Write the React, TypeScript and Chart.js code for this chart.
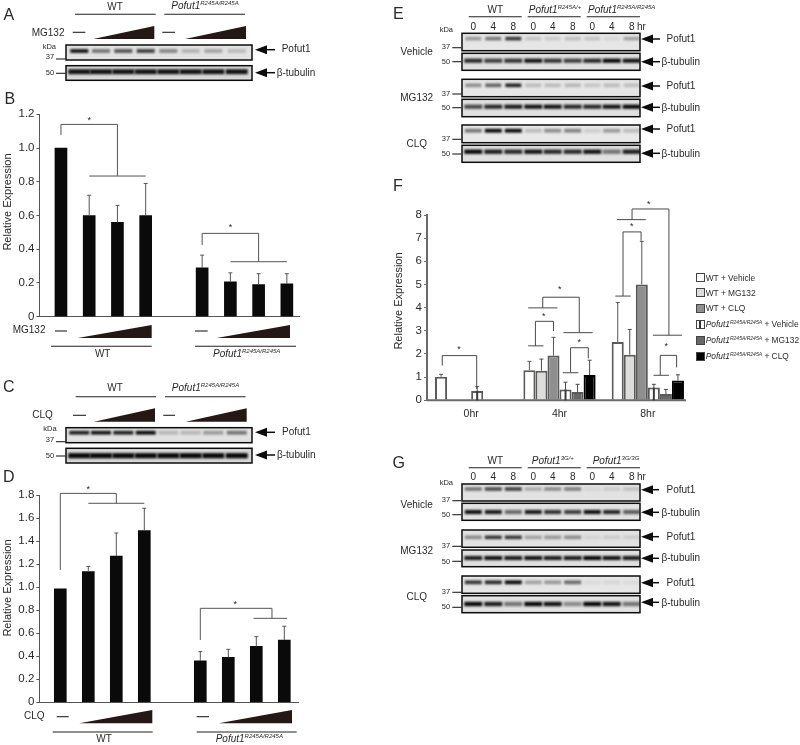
import React, { useEffect, useRef } from "react";
import { Chart, registerables } from "chart.js";

Chart.register(...registerables);

// ---------- data: panels B, D ----------
const slots = [0, 1, 2, 3, 5, 6, 7, 8];
const mg132Means = [1.0, 0.6, 0.56, 0.6, 0.29, 0.207, 0.19, 0.195];
const mg132Upper = [null, 0.72, 0.66, 0.79, 0.365, 0.26, 0.255, 0.255];
const clqMeans = [0.985, 1.135, 1.27, 1.49, 0.36, 0.39, 0.485, 0.54];
const clqUpper = [null, 1.18, 1.47, 1.685, 0.44, 0.46, 0.57, 0.66];
const mg132Ticks = [0, 0.2, 0.4, 0.6, 0.8, 1.0, 1.2];
const clqTicks = [0, 0.2, 0.4, 0.6, 0.8, 1.0, 1.2, 1.4, 1.6, 1.8];

// significance brackets: polylines of [slot, value], stars [slot, value]
const mg132Brackets = [
  [[0, 1.077], [0, 1.14], [2, 1.14], [2, 0.834]],
  [[1, 0.834], [3, 0.834]],
  [[5, 0.425], [5, 0.494], [7, 0.494], [7, 0.326]],
  [[6, 0.326], [8, 0.326]],
];
const mg132Stars = [[1, 1.17], [6, 0.534]];
const clqBrackets = [
  [[0, 1.149], [0, 1.814], [2, 1.814], [2, 1.728]],
  [[1, 1.728], [3, 1.728]],
  [[5, 0.541], [5, 0.816], [7.56, 0.816], [7.56, 0.729]],
  [[6.9, 0.729], [8.1, 0.729]],
];
const clqStars = [[1, 1.858], [6.25, 0.86]];

// ---------- data: panel F ----------
const hours = ["0hr", "4hr", "8hr"];
const fWtVehicle = [1.02, 1.3, 2.52];
const fWtMg132 = [null, 1.28, 1.97];
const fWtClq = [null, 1.93, 5.0];
const fMutVehicle = [0.4, 0.47, 0.55];
const fMutMg132 = [null, 0.36, 0.27];
const fMutClq = [null, 1.09, 0.85];
const fWtVehicleUp = [1.12, 1.68, 4.22];
const fWtMg132Up = [null, 1.78, 3.06];
const fWtClqUp = [null, 2.72, 6.86];
const fMutVehicleUp = [0.59, 0.78, 0.69];
const fMutMg132Up = [null, 0.69, 0.47];
const fMutClqUp = [null, 1.73, 1.1];
const fSeriesNames = ["WT + Vehicle", "WT + MG132", "WT + CLQ", "Mut + Vehicle", "Mut + MG132", "Mut + CLQ"];
const fFills = ["#ffffff", "#dddedb", "#8f8f8f", "#ffffff", "#676767", "#000000"];
// brackets: polylines of [group, lane, value]
const fBrackets = [
  [[0, 0.1, 1.5], [0, 0.1, 1.93], [0, 2.96, 1.93], [0, 2.96, 0.49]],
  [[1, -0.1, 2.35], [1, 1.17, 2.35]],
  [[1, 0.5, 2.35], [1, 0.5, 3.41], [1, 2, 3.41], [1, 2, 2.99]],
  [[1, 2.78, 1.19], [1, 4.06, 1.19]],
  [[1, 3.42, 1.19], [1, 3.42, 2.27], [1, 4.89, 2.27], [1, 4.89, 1.81]],
  [[1, -0.1, 3.99], [1, 2.33, 3.99]],
  [[1, 1.11, 3.99], [1, 1.11, 4.45], [1, 4.14, 4.45], [1, 4.14, 2.92]],
  [[1, 2.83, 2.92], [1, 5.25, 2.92]],
  [[2, -0.2, 4.5], [2, 1.08, 4.5]],
  [[2, 0.44, 4.5], [2, 0.44, 7.27], [2, 1.94, 7.27], [2, 1.94, 6.89]],
  [[2, -0.06, 7.8], [2, 2.33, 7.8]],
  [[2, 1.19, 7.8], [2, 1.19, 8.26], [2, 4.25, 8.26], [2, 4.25, 2.81]],
  [[2, 2.92, 2.81], [2, 5.33, 2.81]],
  [[2, 2.97, 1.08], [2, 4.25, 1.08]],
  [[2, 3.53, 1.08], [2, 3.53, 1.94], [2, 4.89, 1.94], [2, 4.89, 1.42]],
];
const fStars = [[0, 1.49, 2.24], [1, 1.19, 3.68], [1, 4.14, 2.53], [1, 2.53, 4.82], [2, 1.17, 7.53], [2, 2.58, 8.5], [2, 4.03, 2.37]];

// ---------- data: blot band intensities ----------
const aPofut = [0.95, 0.5, 0.65, 0.75, 0.42, 0.22, 0.28, 0.18];
const aTub = [0.95, 0.95, 0.95, 0.95, 0.95, 0.95, 0.95, 0.95];
const cPofut = [0.9, 0.95, 0.9, 1, 0.2, 0.2, 0.33, 0.5];
const cTub = [1, 1, 1, 1, 1, 1, 1, 1];
const eVehPofut = [0.35, 0.5, 0.8, 0.15, 0.12, 0.17, 0.15, 0.07, 0.3];
const eVehTub = [0.85, 0.75, 0.8, 0.95, 0.8, 0.75, 0.85, 1, 0.95];
const eMgPofut = [0.4, 0.6, 0.9, 0.2, 0.2, 0.22, 0.15, 0.2, 0.18];
const eMgTub = [0.7, 0.85, 0.9, 0.95, 0.95, 0.85, 0.85, 0.95, 1];
const eClqPofut = [0.5, 1, 1, 0.2, 0.4, 0.45, 0.12, 0.35, 0.2];
const eClqTub = [1, 0.9, 0.85, 0.95, 0.85, 0.85, 0.95, 0.5, 0.9];
const gVehPofut = [0.5, 0.7, 0.75, 0.25, 0.4, 0.45, 0.05, 0.1, 0.15];
const gVehTub = [0.95, 0.9, 0.55, 0.9, 0.8, 0.75, 0.95, 0.85, 0.6];
const gMgPofut = [0.4, 0.8, 0.8, 0.3, 0.35, 0.4, 0.07, 0.1, 0.1];
const gMgTub = [0.9, 0.95, 0.9, 0.95, 0.9, 0.9, 1, 0.95, 0.9];
const gClqPofut = [0.8, 0.85, 1, 0.3, 0.35, 0.55, 0.05, 0.07, 0.05];
const gClqTub = [1, 0.9, 0.5, 1, 0.95, 0.4, 1, 0.95, 0.5];

const FONT = '"Liberation Sans", Arial, sans-serif';
const INK = "#2a2a2a";
const GREY = "#555555";

// ---------- page furniture geometry ----------
const wideLanes = [79.3, 101, 123.3, 145.7, 168.3, 190.7, 213.3, 236.7];
const nineLanes = [473.3, 493.3, 513.3, 533.3, 552.7, 572.7, 592.3, 611.7, 631.7];

const strips = [
  { x0: 66, x1: 252, t: 45, b: 60, by: 51, bands: aPofut, lanes: wideLanes, w: 18, h: 3.8, ay: 49.7, ax: 254, ae: 275, bg: "#e2e2e2" },
  { x0: 66, x1: 252, t: 65.7, b: 80.3, by: 71.7, bands: aTub, lanes: wideLanes, w: 22, h: 5, ay: 72.7, ax: 254, ae: 275, bg: "#d8d8d8" },
  { x0: 66, x1: 252, t: 427.7, b: 442.7, by: 432.7, bands: cPofut, lanes: wideLanes, w: 20, h: 3.8, ay: 432.3, ax: 254, ae: 275, bg: "#e2e2e2" },
  { x0: 66, x1: 252, t: 448.3, b: 463, by: 455.7, bands: cTub, lanes: wideLanes, w: 22, h: 5.2, ay: 455, ax: 254, ae: 275, bg: "#d8d8d8" },
  { x0: 462, x1: 640, t: 33.3, b: 50.7, by: 38.6, bands: eVehPofut, lanes: nineLanes, w: 16, h: 3.6, ay: 39, ax: 640, ae: 660, bg: "#e6e6e6" },
  { x0: 462, x1: 640, t: 53.3, b: 70.3, by: 60.7, bands: eVehTub, lanes: nineLanes, w: 18, h: 4.2, ay: 61.7, ax: 640, ae: 660, bg: "#e0e0e0" },
  { x0: 462, x1: 640, t: 79.3, b: 96.7, by: 85.3, bands: eMgPofut, lanes: nineLanes, w: 16, h: 3.6, ay: 86, ax: 640, ae: 660, bg: "#e6e6e6" },
  { x0: 462, x1: 640, t: 99.3, b: 116.7, by: 106.7, bands: eMgTub, lanes: nineLanes, w: 18, h: 4.2, ay: 107.3, ax: 640, ae: 660, bg: "#e0e0e0" },
  { x0: 462, x1: 640, t: 125, b: 142.7, by: 130.7, bands: eClqPofut, lanes: nineLanes, w: 17, h: 3.8, ay: 129, ax: 640, ae: 660, bg: "#e8e8e8" },
  { x0: 462, x1: 640, t: 145.3, b: 162.3, by: 151.7, bands: eClqTub, lanes: nineLanes, w: 18, h: 4.4, ay: 153.3, ax: 640, ae: 660, bg: "#e0e0e0" },
  { x0: 462, x1: 640, t: 484, b: 501, by: 489, bands: gVehPofut, lanes: nineLanes, w: 17, h: 3.6, ay: 489.7, ax: 640, ae: 659, bg: "#e2e2e2" },
  { x0: 462, x1: 640, t: 503.3, b: 520.3, by: 512, bands: gVehTub, lanes: nineLanes, w: 17, h: 4.2, ay: 512.3, ax: 640, ae: 659, bg: "#e2e2e2" },
  { x0: 462, x1: 640, t: 530, b: 547.3, by: 537.3, bands: gMgPofut, lanes: nineLanes, w: 17, h: 3.6, ay: 536.7, ax: 640, ae: 659, bg: "#e2e2e2" },
  { x0: 462, x1: 640, t: 550, b: 566.7, by: 558, bands: gMgTub, lanes: nineLanes, w: 18, h: 4.2, ay: 558.3, ax: 640, ae: 659, bg: "#e0e0e0" },
  { x0: 462, x1: 640, t: 576, b: 593.3, by: 582.3, bands: gClqPofut, lanes: nineLanes, w: 17, h: 3.8, ay: 582.7, ax: 640, ae: 659, bg: "#e6e6e6" },
  { x0: 462, x1: 640, t: 595.7, b: 612.7, by: 604, bands: gClqTub, lanes: nineLanes, w: 18, h: 4.4, ay: 602.3, ax: 640, ae: 659, bg: "#e2e2e2" },
];

const rules = [
  [75, 14.3, 155.7, 14.3], [164.3, 14.3, 245, 14.3],
  [75.7, 396.7, 156, 396.7], [165, 396.7, 245.5, 396.7],
  [51, 346.3, 151.7, 346.3], [195, 346.3, 296, 346.3],
  [52.7, 732, 152.7, 732], [196.7, 732, 296.7, 732],
  [468.7, 16.7, 521.7, 16.7], [527.7, 16.7, 580.7, 16.7], [586.7, 16.7, 640, 16.7],
  [468.7, 467.7, 521.7, 467.7], [527.7, 467.7, 580.7, 467.7], [586.7, 467.7, 640, 467.7],
  // dashes
  [72.7, 32.3, 85.3, 32.3], [162.3, 32.3, 175, 32.3],
  [73, 415.3, 86, 415.3], [163.3, 415.3, 175, 415.3],
  [55, 331, 67, 331], [195, 331, 207.7, 331],
  [56.7, 716.7, 68.7, 716.7], [196.7, 716.7, 209, 716.7],
  // marker ticks
  [56, 59, 65.7, 59], [56, 73.3, 65.7, 73.3], [56, 441.7, 65.7, 441.7], [56, 456, 65.7, 456],
  [452.3, 47.7, 461.5, 47.7], [452.3, 61.7, 461.5, 61.7], [452.3, 94, 461.5, 94], [452.3, 107.7, 461.5, 107.7], [452.3, 139.3, 461.5, 139.3], [452.3, 154, 461.5, 154],
  [452.3, 500.7, 461.5, 500.7], [452.3, 514.7, 461.5, 514.7], [452.3, 546.3, 461.5, 546.3], [452.3, 561.3, 461.5, 561.3], [452.3, 592.3, 461.5, 592.3], [452.3, 607.3, 461.5, 607.3],
];
const wedges = [
  [93.3, 154.3, 39, 26], [185, 246, 39, 26],
  [94, 155, 421.7, 408.3], [185.7, 246.7, 421.7, 408.3],
  [77.7, 151.7, 338, 325], [216.7, 290, 338, 325],
  [79.3, 152.3, 723.3, 710], [218.7, 292, 723.3, 710],
];

const pagePlugin = {
  id: "page",
  afterDraw(chart: any) {
    const ctx = chart.ctx;
    ctx.save();
    ctx.fillStyle = "#ffffff";
    ctx.fillRect(0, 0, 800, 745);
    for (const s of strips) {
      ctx.save();
      ctx.beginPath();
      ctx.rect(s.x0, s.t, s.x1 - s.x0, s.b - s.t);
      ctx.clip();
      ctx.fillStyle = s.bg;
      ctx.fillRect(s.x0, s.t, s.x1 - s.x0, s.b - s.t);
      ctx.filter = "blur(0.8px)";
      s.bands.forEach((v: number, i: number) => {
        ctx.fillStyle = `rgba(8,8,8,${v})`;
        ctx.fillRect(s.lanes[i] - s.w / 2, s.by - s.h / 2, s.w, s.h);
      });
      ctx.restore();
      ctx.strokeStyle = "#0c0c0c";
      ctx.lineWidth = 1.5;
      ctx.strokeRect(s.x0, s.t, s.x1 - s.x0, s.b - s.t);
      // arrow
      ctx.fillStyle = "#0c0c0c";
      ctx.beginPath();
      ctx.moveTo(s.ax + 1, s.ay);
      ctx.lineTo(s.ax + 13, s.ay - 4.5);
      ctx.lineTo(s.ax + 13, s.ay + 4.5);
      ctx.closePath();
      ctx.fill();
      ctx.strokeStyle = "#0c0c0c";
      ctx.lineWidth = 1.5;
      ctx.beginPath();
      ctx.moveTo(s.ax + 12, s.ay);
      ctx.lineTo(s.ae, s.ay);
      ctx.stroke();
    }
    ctx.strokeStyle = "#222";
    ctx.lineWidth = 1.1;
    for (const [a, b, c, d] of rules) {
      ctx.beginPath();
      ctx.moveTo(a, b);
      ctx.lineTo(c, d);
      ctx.stroke();
    }
    ctx.fillStyle = "#231815";
    for (const [l, r, yb, yt] of wedges) {
      ctx.beginPath();
      ctx.moveTo(l, yb);
      ctx.lineTo(r, yb);
      ctx.lineTo(r, yt);
      ctx.closePath();
      ctx.fill();
    }
    ctx.restore();
  },
};

function drawStar(ctx: any, x: number, y: number) {
  ctx.fillStyle = INK;
  ctx.font = `9px ${FONT}`;
  ctx.textAlign = "center";
  ctx.textBaseline = "middle";
  ctx.fillText("*", x, y + 1);
}

function slotOverlay(upper: any[], brackets: number[][][], stars: number[][]) {
  return {
    id: "slotOverlay",
    afterDatasetsDraw(chart: any) {
      const ctx = chart.ctx;
      const xs = chart.scales.x;
      const ys = chart.scales.y;
      const bars = chart.getDatasetMeta(0).data;
      ctx.save();
      ctx.strokeStyle = GREY;
      ctx.lineWidth = 1;
      upper.forEach((u, i) => {
        if (u == null) return;
        const x = bars[i].x;
        const top = ys.getPixelForValue(u);
        ctx.beginPath();
        ctx.moveTo(x, bars[i].y);
        ctx.lineTo(x, top);
        ctx.moveTo(x - 2, top);
        ctx.lineTo(x + 2, top);
        ctx.stroke();
      });
      for (const poly of brackets) {
        ctx.beginPath();
        poly.forEach(([s, v], i) => {
          const px = xs.getPixelForValue(s);
          const py = ys.getPixelForValue(v);
          if (i === 0) ctx.moveTo(px, py);
          else ctx.lineTo(px, py);
        });
        ctx.stroke();
      }
      for (const [s, v] of stars) drawStar(ctx, xs.getPixelForValue(s), ys.getPixelForValue(v));
      ctx.restore();
    },
  };
}

const fUpper = [fWtVehicleUp, fWtMg132Up, fWtClqUp, fMutVehicleUp, fMutMg132Up, fMutClqUp];

const fOverlay = {
  id: "fOverlay",
  afterDatasetsDraw(chart: any) {
    const ctx = chart.ctx;
    const xs = chart.scales.x;
    const ys = chart.scales.y;
    const laneWidth = ((xs.getPixelForTick(1) - xs.getPixelForTick(0)) * (72 / 88)) / 6;
    const lx = (g: number, lane: number) => xs.getPixelForTick(g) + (lane - 2.5) * laneWidth;
    ctx.save();
    ctx.strokeStyle = "#6a6a6a";
    ctx.lineWidth = 2;
    ctx.beginPath();
    ctx.moveTo(chart.chartArea.left, chart.chartArea.bottom);
    ctx.lineTo(chart.chartArea.right - 6, chart.chartArea.bottom);
    ctx.stroke();
    fUpper.forEach((arr, d) => {
      const meta = chart.getDatasetMeta(d);
      arr.forEach((u, i) => {
        if (u == null) return;
        const el = meta.data[i];
        const top = ys.getPixelForValue(u);
        ctx.strokeStyle = d === 0 || d === 2 ? GREY : "#4a4a4a";
        ctx.lineWidth = 1;
        ctx.beginPath();
        ctx.moveTo(el.x, el.y);
        ctx.lineTo(el.x, top);
        ctx.moveTo(el.x - 2, top);
        ctx.lineTo(el.x + 2, top);
        ctx.stroke();
        if (d === 3) {
          ctx.strokeStyle = "#3a3a3a";
          ctx.lineWidth = 2;
          ctx.beginPath();
          ctx.moveTo(el.x, el.y);
          ctx.lineTo(el.x, ys.getPixelForValue(0));
          ctx.stroke();
        }
      });
    });
    ctx.strokeStyle = "#4a4a4a";
    ctx.lineWidth = 1;
    for (const poly of fBrackets) {
      ctx.beginPath();
      poly.forEach(([g, lane, v], i) => {
        const px = lx(g, lane);
        const py = ys.getPixelForValue(v);
        if (i === 0) ctx.moveTo(px, py);
        else ctx.lineTo(px, py);
      });
      ctx.stroke();
    }
    for (const [g, lane, v] of fStars) drawStar(ctx, lx(g, lane), ys.getPixelForValue(v));
    ctx.restore();
  },
};

function fixedScale(size: number, key: "width" | "height") {
  return (scale: any) => {
    scale[key] = size;
  };
}

function slotChartConfig(means: number[], upper: any[], ticksList: number[], brackets: number[][][], stars: number[][], box: any, xr: number[]) {
  return {
    type: "bar",
    data: {
      datasets: [
        {
          data: slots.map((s, i) => ({ x: s, y: means[i] })),
          backgroundColor: "#0a0a0a",
          barThickness: 12,
        },
      ],
    },
    options: {
      animation: false,
      responsive: false,
      layout: { padding: box.padding },
      plugins: { legend: { display: false }, tooltip: { enabled: false } },
      scales: {
        x: {
          type: "linear",
          min: xr[0],
          max: xr[1],
          offset: false,
          afterFit: fixedScale(0, "height"),
          grid: { display: false },
          border: { color: GREY, width: 1 },
          ticks: { display: false },
        },
        y: {
          min: 0,
          max: ticksList[ticksList.length - 1],
          afterFit: fixedScale(box.axisLeft, "width"),
          afterBuildTicks: (s: any) => {
            s.ticks = ticksList.map((v) => ({ value: v }));
          },
          grid: { drawOnChartArea: false, tickLength: 3, color: GREY },
          border: { color: GREY, width: 1 },
          ticks: {
            padding: 2,
            color: INK,
            font: { family: FONT, size: 11.5 },
            callback: (v: number) => (v === 0 ? "0" : Number(v).toFixed(1)),
          },
        },
      },
    },
    plugins: [slotOverlay(upper, brackets, stars)],
  };
}

const fSeries = [fWtVehicle, fWtMg132, fWtClq, fMutVehicle, fMutMg132, fMutClq];

const fConfig = {
  type: "bar",
  data: {
    labels: hours,
    datasets: fSeries.map((d, i) => ({
      label: fSeriesNames[i],
      data: d,
      backgroundColor: fFills[i],
      borderColor: i === 5 ? "#000" : "#5a5a5a",
      borderWidth: 2,
      barPercentage: 1,
      categoryPercentage: 72 / 88,
    })),
  },
  options: {
    animation: false,
    responsive: false,
    layout: { padding: { top: 25, right: 8, left: 0, bottom: 0 } },
    plugins: { legend: { display: false }, tooltip: { enabled: false } },
    scales: {
      x: {
        afterFit: fixedScale(24.7, "height"),
        grid: { display: false },
        border: { display: false },
        ticks: { padding: 0, color: INK, font: { family: FONT, size: 10.5 }, maxRotation: 0 },
      },
      y: {
        min: 0,
        max: 8,
        afterFit: fixedScale(47, "width"),
        grid: { drawOnChartArea: false, tickLength: 3, color: "#6a6a6a" },
        border: { color: "#6a6a6a", width: 2 },
        ticks: { stepSize: 1, padding: 2, color: INK, font: { family: FONT, size: 11.5 } },
      },
    },
  },
  plugins: [fOverlay],
};

function useChart(makeConfig: () => any) {
  const ref = useRef<HTMLCanvasElement | null>(null);
  useEffect(() => {
    if (!ref.current) return;
    const c = new Chart(ref.current, makeConfig());
    return () => c.destroy();
  }, []);
  return ref;
}

function T({ x, y, s = 10, a = "l", rot, children }: any) {
  const tx = a === "c" ? "-50%" : a === "r" ? "-100%" : "0";
  return (
    <span
      style={{
        position: "absolute",
        left: x,
        top: y,
        fontSize: s,
        lineHeight: 1,
        whiteSpace: "nowrap",
        color: INK,
        fontFamily: FONT,
        transform: `translate(${tx}, -50%)${rot ? ` rotate(${rot}deg)` : ""}`,
      }}
    >
      {children}
    </span>
  );
}

function Pofut({ sup, s = 10 }: any) {
  return (
    <i>
      Pofut1
      <sup style={{ fontSize: s * 0.6, verticalAlign: s * 0.38, lineHeight: 0 }}>{sup}</sup>
    </i>
  );
}

const MUT = "R245A/R245A";
const laneNumbers = ["0", "4", "8", "0", "4", "8", "0", "4", "8"];

function RowLabels({ ys }: any) {
  return ys.map(([kind, y]: any, i: number) => (
    <T key={i} x={kind === "p" ? 666.5 : 661.5} y={y}>
      {kind === "p" ? "Pofut1" : "β-tubulin"}
    </T>
  ));
}

function Weights({ items, x }: any) {
  return items.map(([t, y]: any, i: number) => (
    <T key={i} x={x} y={y} s={7.5} a="c">
      {t}
    </T>
  ));
}

const legendRows = [
  { y: 277.7, fill: fFills[0], text: <>WT + Vehicle</> },
  { y: 292.7, fill: fFills[1], text: <>WT + MG132</> },
  { y: 308.3, fill: fFills[2], text: <>WT + CLQ</> },
  { y: 324, fill: "linear-gradient(90deg,#fff 0 35%,#333 35% 60%,#fff 60%)", text: <><Pofut sup={MUT} s={8.4} /> + Vehicle</> },
  { y: 340, fill: fFills[4], text: <><Pofut sup={MUT} s={8.4} /> + MG132</> },
  { y: 356, fill: fFills[5], text: <><Pofut sup={MUT} s={8.4} /> + CLQ</> },
];

export default function App() {
  const pageRef = useChart(() => ({
    type: "bar",
    data: { labels: [], datasets: [] },
    options: {
      animation: false,
      responsive: false,
      plugins: { legend: { display: false }, tooltip: { enabled: false } },
      scales: { x: { display: false }, y: { display: false } },
    },
    plugins: [pagePlugin],
  }));
  const bRef = useChart(() =>
    slotChartConfig(mg132Means, mg132Upper, mg132Ticks, mg132Brackets, mg132Stars, { axisLeft: 39.5, padding: { top: 14.3, bottom: 13.3, left: 0, right: 11 } }, [-0.76, 8.43])
  );
  const dRef = useChart(() =>
    slotChartConfig(clqMeans, clqUpper, clqTicks, clqBrackets, clqStars, { axisLeft: 39.3, padding: { top: 25, bottom: 12.7, left: 0, right: 11.7 } }, [-0.75, 8.5])
  );
  const fRef = useChart(() => fConfig);

  const canvasStyle = (l: number, t: number): any => ({ position: "absolute", left: l, top: t });

  return (
    <div style={{ position: "absolute", left: 0, top: 0, width: 800, height: 745, background: "#fff", overflow: "hidden", filter: "blur(0.35px)" }}>
      <canvas ref={pageRef} width={800} height={745} style={canvasStyle(0, 0)} />
      <canvas ref={bRef} width={310} height={230} style={canvasStyle(0, 100)} />
      <canvas ref={dRef} width={310} height={245} style={canvasStyle(0, 470)} />
      <canvas ref={fRef} width={320} height={235} style={canvasStyle(380, 190)} />

      {/* panel letters */}
      <T x={3.5} y={14.7} s={16}>A</T>
      <T x={4.5} y={99} s={16}>B</T>
      <T x={3} y={386.7} s={16}>C</T>
      <T x={3} y={476.7} s={16}>D</T>
      <T x={393} y={14} s={16}>E</T>
      <T x={393} y={186} s={16}>F</T>
      <T x={392.5} y={462.7} s={16}>G</T>

      {/* A */}
      <T x={115} y={6.7} a="c">WT</T>
      <T x={205} y={6} a="c"><Pofut sup={MUT} /></T>
      <T x={31.7} y={32.7}>MG132</T>
      <T x={49.3} y={46.7} s={7.5} a="c">kDa</T>
      <Weights x={50} items={[["37", 57.3], ["50", 73.3]]} />
      <T x={281.7} y={49.3}>Pofut1</T>
      <T x={276.7} y={73}>β-tubulin</T>

      {/* B */}
      <T x={6.5} y={202} s={11} a="c" rot={-90}>Relative Expression</T>
      <T x={12.7} y={330}>MG132</T>
      <T x={102.7} y={354} a="c">WT</T>
      <T x={246.7} y={354} a="c"><Pofut sup={MUT} /></T>

      {/* C */}
      <T x={115} y={388.3} a="c">WT</T>
      <T x={205.5} y={388.3} a="c"><Pofut sup={MUT} /></T>
      <T x={32.3} y={415.3}>CLQ</T>
      <T x={50} y={429.3} s={7.5} a="c">kDa</T>
      <Weights x={50} items={[["37", 440], ["50", 456]]} />
      <T x={282} y={432}>Pofut1</T>
      <T x={277} y={455}>β-tubulin</T>

      {/* D */}
      <T x={6.5} y={588} s={11} a="c" rot={-90}>Relative Expression</T>
      <T x={24} y={716}>CLQ</T>
      <T x={104} y={739.3} a="c">WT</T>
      <T x={249.3} y={739.3} a="c"><Pofut sup={MUT} /></T>

      {/* E */}
      <T x={495.3} y={10.3} a="c">WT</T>
      <T x={555} y={10.3} a="c"><Pofut sup="R245A/+" /></T>
      <T x={621.7} y={10.3} a="c"><Pofut sup={MUT} /></T>
      {laneNumbers.map((n, i) => (
        <T key={i} x={nineLanes[i]} y={26.7} a="c">{n}</T>
      ))}
      <T x={637} y={26.7}>hr</T>
      <T x={446.3} y={30} s={7.5} a="c">kDa</T>
      <Weights x={446} items={[["37", 47], ["50", 62], ["37", 94], ["50", 107.7], ["37", 139.3], ["50", 154]]} />
      <T x={416.7} y={52} a="c">Vehicle</T>
      <T x={416.7} y={97.7} a="c">MG132</T>
      <T x={416.7} y={144} a="c">CLQ</T>
      <RowLabels ys={[["p", 38.5], ["t", 62], ["p", 85.5], ["t", 107.5], ["p", 128.5], ["t", 153.5]]} />

      {/* F */}
      <T x={398} y={301} s={11} a="c" rot={-90}>Relative Expression</T>
      {legendRows.map((r, i) => (
        <React.Fragment key={i}>
          <div style={{ position: "absolute", left: 696, top: r.y - 4.5, width: 9, height: 9, boxSizing: "border-box", border: "1.3px solid #444", background: r.fill }} />
          <T x={705.7} y={r.y} s={8.4}>{r.text}</T>
        </React.Fragment>
      ))}

      {/* G */}
      <T x={495.3} y={461} a="c">WT</T>
      <T x={552.8} y={461} a="c"><Pofut sup="3G/+" /></T>
      <T x={616} y={461} a="c"><Pofut sup="3G/3G" /></T>
      {laneNumbers.map((n, i) => (
        <T key={i} x={nineLanes[i]} y={477.3} a="c">{n}</T>
      ))}
      <T x={637} y={477.3}>hr</T>
      <T x={446.3} y={483.3} s={7.5} a="c">kDa</T>
      <Weights x={446} items={[["37", 500], ["50", 515.3], ["37", 546.3], ["50", 562], ["37", 592.3], ["50", 607.3]]} />
      <T x={416.7} y={505} a="c">Vehicle</T>
      <T x={416.7} y={551.3} a="c">MG132</T>
      <T x={416.7} y={597.3} a="c">CLQ</T>
      <RowLabels ys={[["p", 489.5], ["t", 512.5], ["p", 536.5], ["t", 558], ["p", 582.5], ["t", 602.5]]} />
    </div>
  );
}
